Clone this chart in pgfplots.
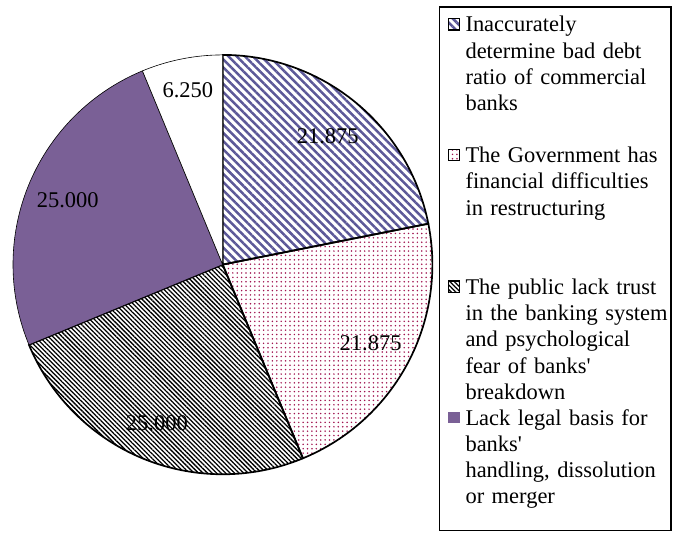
\documentclass[border=0pt]{standalone}
\usepackage{pgfplots}
\pgfplotsset{compat=1.18}
\usepackage{pgfplotstable}
\usepackage{fontspec}
\setmainfont{Liberation Serif}
\newfontfamily\plainserif{Liberation Serif}
\usetikzlibrary{patterns.meta}

\definecolor{stripeblue}{RGB}{92,88,152}
\definecolor{dotred}{RGB}{160,20,80}
\definecolor{lackpurple}{RGB}{122,96,150}

\tikzset{
  s1/.style={pattern={Lines[angle=-45,distance=5.8bp,line width=2.5bp]}, pattern color=stripeblue, draw=black, line width=1.7bp},
  s2/.style={pattern={Dots[distance=4.4bp,radius=0.85bp]}, pattern color=dotred, draw=black, line width=1.7bp},
  s3/.style={pattern={Lines[angle=-45,distance=3.2bp,line width=1.3bp]}, pattern color=black, draw=black, line width=1.7bp},
  s4/.style={fill=lackpurple, draw=black, line width=0.6bp},
  s5/.style={fill=white, draw=black, line width=0.6bp},
}
\newcommand\apos{{\plainserif'}}

% share (percent), slice style, label radius
\pgfplotstableread{
value style lr
21.875 s1 0.79
21.875 s2 0.80
25.000 s3 0.82
25.000 s4 0.80
6.250  s5 0.85
}\piedata

\begin{document}
\begin{tikzpicture}
\begin{axis}[
  hide axis, scale only axis, clip=false,
  x=210bp, y=210bp,
  xmin=-1.0571, xmax=2.1476,
  ymin=-1.2762, ymax=1.2619,
]
\path (rel axis cs:0,0) rectangle (rel axis cs:1,1);
\gdef\cumangle{90}
\pgfplotsinvokeforeach{0,...,4}{%
  \pgfplotstablegetelem{#1}{value}\of\piedata \let\v\pgfplotsretval
  \pgfplotstablegetelem{#1}{style}\of\piedata \let\st\pgfplotsretval
  \pgfmathsetmacro\aend{\cumangle-3.6*\v}
  \edef\temp{\noexpand\filldraw[\st] (axis cs:0,0) -- (axis cs:{cos(\cumangle)},{sin(\cumangle)})
    arc[start angle=\cumangle, end angle=\aend, radius=210bp] -- cycle;}%
  \temp
  \xdef\cumangle{\aend}
}
\gdef\cumangle{90}
\pgfplotsinvokeforeach{0,...,4}{%
  \pgfplotstablegetelem{#1}{value}\of\piedata \let\v\pgfplotsretval
  \pgfplotstablegetelem{#1}{lr}\of\piedata \let\lr\pgfplotsretval
  \pgfmathsetmacro\aend{\cumangle-3.6*\v}
  \pgfmathsetmacro\amid{(\cumangle+\aend)/2}
  \edef\temp{\noexpand\node[font=\noexpand\fontsize{22.5bp}{26bp}\noexpand\selectfont]
    at (axis cs:{\lr*cos(\amid)},{\lr*sin(\amid)}) {\v};}%
  \temp
  \xdef\cumangle{\aend}
}
\end{axis}

% legend, in pixel coordinates from the top left
\begin{scope}[shift={(0bp,533bp)}, x=1bp, y=-1bp]
  \draw[line width=1.3bp] (439,7) rectangle (671,531.5);
  \tikzset{legtext/.style={anchor=base west, text width=205bp, align=left, inner sep=0pt,
      font=\fontsize{22.5bp}{26.2bp}\selectfont}}
  \filldraw[s1, line width=1.2bp] (448,18.5) rectangle (459.5,30);
  \node[legtext] at (465,32) {Inaccurately\\determine bad debt\\ratio of commercial\\banks};
  \filldraw[s2, line width=1.2bp] (448,149.5) rectangle (459.5,161);
  \node[legtext] at (465,163) {The Government has\\financial difficulties\\in restructuring};
  \filldraw[s3, line width=1.2bp] (448,281.5) rectangle (459.5,293);
  \node[legtext] at (465,295) {The public lack trust\\in the banking system\\and psychological\\fear of banks\apos\\breakdown};
  \fill[lackpurple] (448,412.5) rectangle (459.5,424);
  \node[legtext] at (465,426) {Lack legal basis for\\banks\apos\\handling, dissolution\\or merger};
\end{scope}
\end{tikzpicture}
\end{document}
